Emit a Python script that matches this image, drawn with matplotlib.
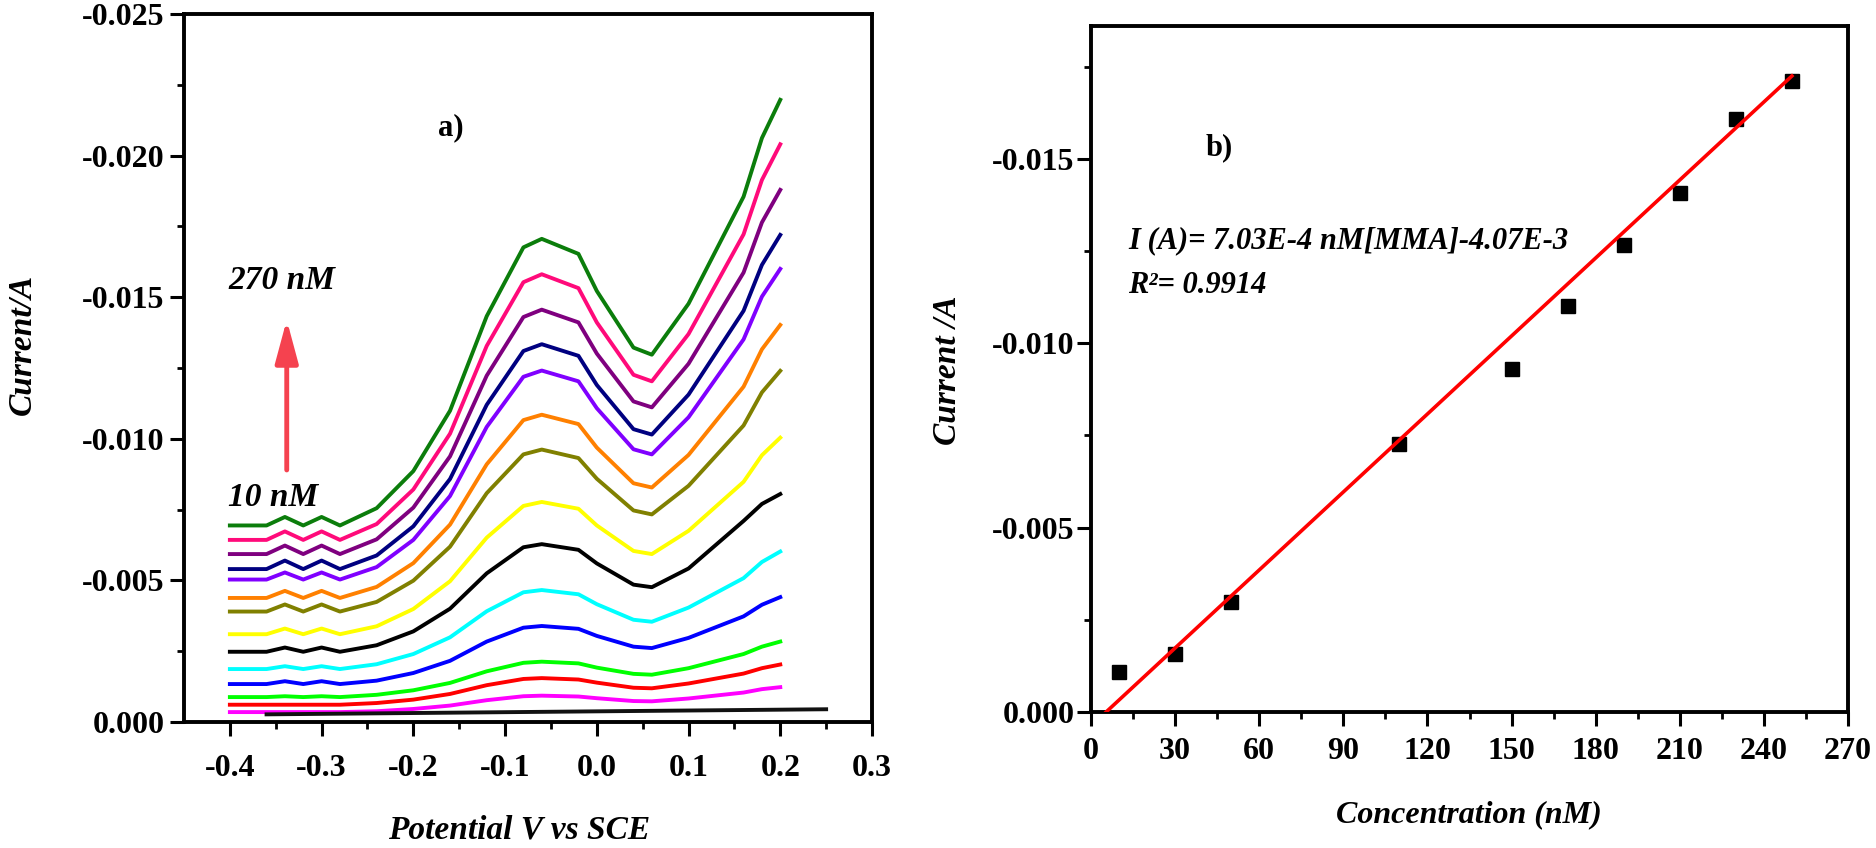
import numpy as np
import matplotlib
matplotlib.use('Agg')
import matplotlib.pyplot as plt
from matplotlib.ticker import FixedLocator, MultipleLocator, FormatStrFormatter

plt.rcParams['font.family'] = 'Liberation Serif'
plt.rcParams['font.weight'] = 'bold'
plt.rcParams['axes.unicode_minus'] = False

# ---- panel a) : DPV curves, current magnitude (A) vs potential (V vs SCE)
potential = [-0.40, -0.36, -0.34, -0.32, -0.30, -0.28, -0.24, -0.20, -0.16, -0.12,
             -0.08, -0.06, -0.02, 0.00, 0.04, 0.06, 0.10, 0.16, 0.18, 0.20]

i_green = [.00694, .00694, .00724, .00694, .00724, .00694, .00755, .00886, .01099, .01433,
           .01676, .01706, .01653, .01522, .01322, .01297, .01477, .01855, .02062, .02197]
i_pink = [.00643, .00643, .00673, .00643, .00673, .00643, .00699, .00821, .01018, .01328,
          .01553, .01581, .01532, .01411, .01226, .01203, .01370, .01722, .01914, .02040]
i_purple = [.00593, .00593, .00623, .00593, .00623, .00593, .00645, .00757, .00938, .01223,
            .01430, .01456, .01411, .01301, .01132, .01111, .01265, .01587, .01764, .01879]
i_navy = [.00540, .00540, .00570, .00540, .00570, .00540, .00588, .00691, .00858, .01120,
          .01310, .01334, .01293, .01190, .01034, .01015, .01156, .01452, .01614, .01720]
i_violet = [.00503, .00503, .00528, .00503, .00528, .00503, .00547, .00643, .00798, .01042,
            .01219, .01241, .01203, .01108, .00963, .00945, .01076, .01351, .01502, .01600]
i_orange = [.00438, .00438, .00463, .00438, .00463, .00438, .00477, .00561, .00697, .00910,
            .01066, .01085, .01052, .00969, .00843, .00828, .00943, .01184, .01316, .01402]
i_olive = [.00390, .00390, .00415, .00390, .00415, .00390, .00424, .00499, .00619, .00808,
           .00945, .00962, .00932, .00859, .00747, .00733, .00834, .01047, .01164, .01240]
i_yellow = [.00310, .00310, .00330, .00310, .00330, .00310, .00338, .00399, .00497, .00651,
            .00763, .00777, .00753, .00694, .00604, .00593, .00675, .00848, .00942, .01004]
i_black = [.00248, .00248, .00263, .00248, .00263, .00248, .00271, .00320, .00400, .00525,
           .00617, .00628, .00608, .00560, .00485, .00476, .00542, .00710, .00770, .00805]
i_cyan = [.00187, .00187, .00197, .00187, .00197, .00187, .00204, .00240, .00299, .00391,
          .00458, .00466, .00451, .00416, .00361, .00354, .00404, .00508, .00565, .00602]
i_blue = [.00134, .00134, .00144, .00134, .00144, .00134, .00146, .00173, .00216, .00284,
          .00333, .00339, .00329, .00304, .00266, .00261, .00297, .00373, .00414, .00441]
i_lime = [.00088, .00088, .00091, .00088, .00091, .00088, .00096, .00112, .00138, .00179,
          .00209, .00213, .00207, .00192, .00170, .00167, .00190, .00240, .00266, .00284]
i_red = [.00061, .00061, .00061, .00061, .00061, .00061, .00067, .00079, .00099, .00130,
         .00152, .00155, .00150, .00139, .00121, .00119, .00136, .00171, .00190, .00203]
i_magenta = [.00035, .00035, .00035, .00035, .00035, .00035, .00038, .00046, .00058, .00077,
             .00091, .00093, .00090, .00084, .00074, .00073, .00083, .00104, .00116, .00123]

blank_potential = [-0.36, 0.25]
i_blank = [.00027, .00045]

curves = [i_green, i_pink, i_purple, i_navy, i_violet, i_orange, i_olive, i_yellow,
          i_black, i_cyan, i_blue, i_lime, i_red, i_magenta]
colors = ['#0b7d0b', '#ff0a7a', '#7f007f', '#000080', '#8000ff', '#ff8000', '#808000',
          '#ffff00', '#000000', '#00ffff', '#0000ff', '#00ff00', '#ff0000', '#ff00ff']

# ---- panel b) : calibration
conc = [10, 30, 50, 110, 150, 170, 190, 210, 230, 250]
i_peak = [0.00108, 0.00157, 0.00297, 0.00726, 0.00931, 0.01100, 0.01265, 0.01408, 0.01608, 0.01711]
fit_slope = 7.05e-5
fit_intercept = -3.8e-4
fit_range = [5.4, 250]

W, H = 1876, 848
fig = plt.figure(figsize=(W / 100, H / 100), dpi=100)

ax1 = fig.add_axes([184 / W, 1 - 722 / H, 688 / W, 708 / H])
ax2 = fig.add_axes([1091 / W, 1 - 712 / H, 757 / W, 686 / H])

for c, col in zip(curves, colors):
    ax1.plot(potential, -np.array(c), color=col, lw=2.8, solid_joinstyle='round')
ax1.plot(blank_potential, -np.array(i_blank), color='#111111', lw=2.8)

ax1.set_xlim(-0.45, 0.3)
ax1.set_ylim(0.0, -0.025)
ax1.xaxis.set_major_locator(FixedLocator([-0.4, -0.3, -0.2, -0.1, 0.0, 0.1, 0.2, 0.3]))
ax1.xaxis.set_minor_locator(FixedLocator([-0.35, -0.25, -0.15, -0.05, 0.05, 0.15, 0.25]))
ax1.xaxis.set_major_formatter(FormatStrFormatter('%.1f'))
ax1.yaxis.set_major_locator(FixedLocator([0.0, -0.005, -0.010, -0.015, -0.020, -0.025]))
ax1.yaxis.set_minor_locator(FixedLocator([-0.0025, -0.0075, -0.0125, -0.0175, -0.0225]))
ax1.yaxis.set_major_formatter(FormatStrFormatter('%.3f'))

ax2.plot(conc, -np.array(i_peak), 's', color='black', ms=9.5, zorder=3)
fx = np.array(fit_range)
ax2.plot(fx, -(fit_slope * fx + fit_intercept), color='#ff0000', lw=2.6, zorder=4)
ax2.set_xlim(0, 270)
ax2.set_ylim(0.0, -0.0186)
ax2.xaxis.set_major_locator(MultipleLocator(30))
ax2.xaxis.set_minor_locator(MultipleLocator(15))
ax2.yaxis.set_major_locator(FixedLocator([0.0, -0.005, -0.010, -0.015]))
ax2.yaxis.set_minor_locator(FixedLocator([-0.0025, -0.0075, -0.0125, -0.0175]))
ax2.yaxis.set_major_formatter(FormatStrFormatter('%.3f'))

for ax in (ax1, ax2):
    for s in ax.spines.values():
        s.set_linewidth(2.8)
    ax.tick_params(which='major', direction='out', length=10, width=2.2, labelsize=23)
    ax.tick_params(which='minor', direction='out', length=5, width=2.0)
    ax.tick_params(top=False, right=False)
    for lab in ax.get_xticklabels() + ax.get_yticklabels():
        lab.set_fontweight('bold')

ax1.tick_params(axis='x', which='major', pad=13)
ax1.tick_params(axis='y', which='major', pad=4)
ax2.tick_params(axis='x', which='major', pad=8)
ax2.tick_params(axis='y', which='major', pad=2)

# annotations panel a)
ax1.text(-0.159, -0.0210, 'a)', fontsize=22, fontweight='bold', ha='center', va='center')
ax1.text(-0.402, -0.0156, '270 nM', fontsize=24, fontweight='bold', fontstyle='italic',
         ha='left', va='center')
ax1.text(-0.402, -0.00794, '10 nM', fontsize=24, fontweight='bold', fontstyle='italic',
         ha='left', va='center')
ax1.annotate('', xy=(-0.338, -0.0142), xytext=(-0.338, -0.0089),
             arrowprops=dict(arrowstyle='-|>,head_length=1.3,head_width=0.35',
                             color='#f5424f', lw=3.5, mutation_scale=20,
                             shrinkA=0, shrinkB=0))

# annotations panel b)
ax2.text(45.6, -0.0153, 'b)', fontsize=22, fontweight='bold', ha='center', va='center')
ax2.text(13.2, -0.01279, 'I (A)= 7.03E-4 nM[MMA]-4.07E-3', fontsize=22,
         fontweight='bold', fontstyle='italic', ha='left', va='center')
ax2.text(13.2, -0.01157, 'R\u00b2= 0.9914', fontsize=22,
         fontweight='bold', fontstyle='italic', ha='left', va='center')

# axis titles
fig.text(22 / W, 1 - 344 / H, 'Current/A', rotation=90, fontsize=24, fontweight='bold',
         fontstyle='italic', ha='center', va='center')
fig.text(519 / W, 1 - 830 / H, 'Potential V vs SCE', fontsize=24, fontweight='bold',
         fontstyle='italic', ha='center', va='center')
fig.text(948 / W, 1 - 370 / H, 'Current /A', rotation=90, fontsize=24, fontweight='bold',
         fontstyle='italic', ha='center', va='center')
fig.text(1469 / W, 1 - 815 / H, 'Concentration (nM)', fontsize=23, fontweight='bold',
         fontstyle='italic', ha='center', va='center')

fig.savefig('out.png', dpi=100, facecolor='white')
